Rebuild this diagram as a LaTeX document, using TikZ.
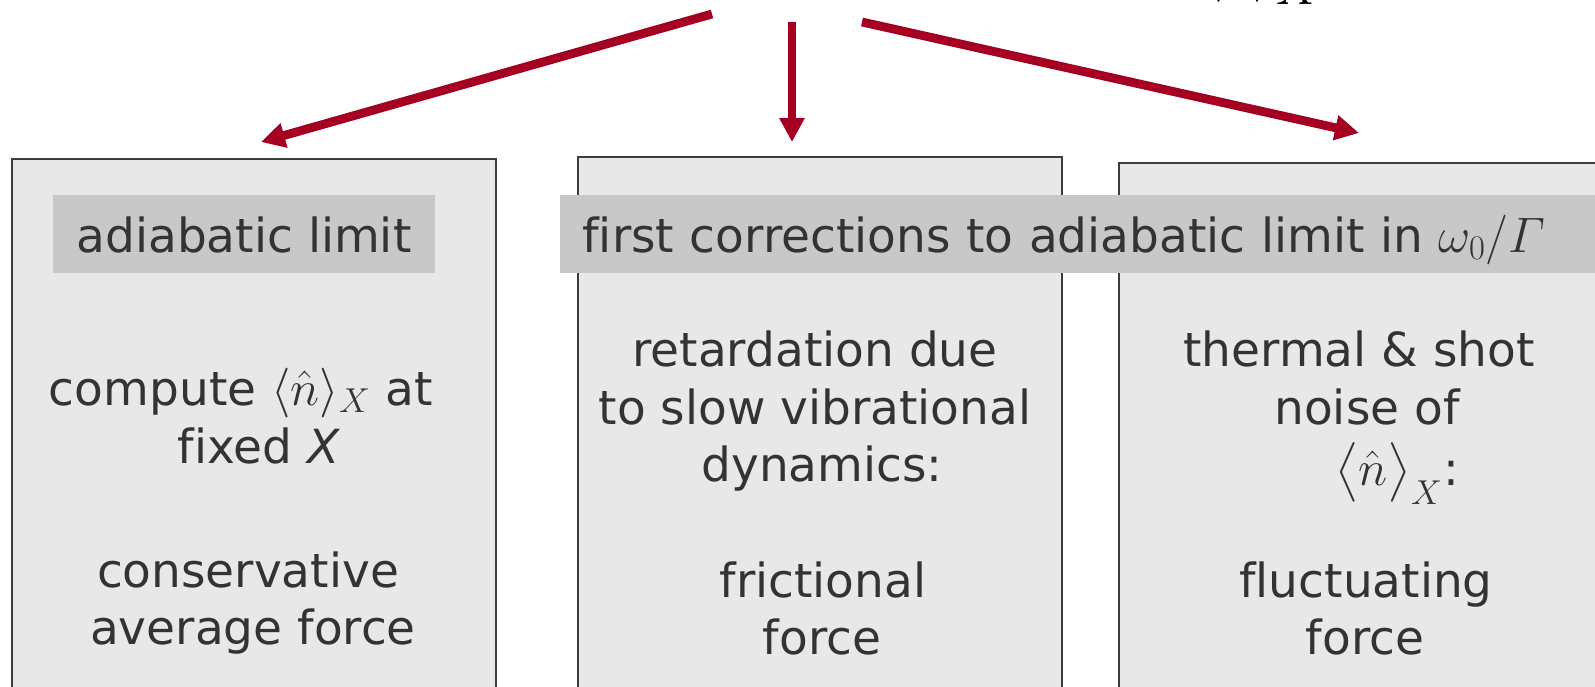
\documentclass[tikz,border=0pt]{standalone}
\usepackage{amsmath}
\usepackage{fontspec}
\setmainfont{DejaVu Sans}[Ligatures=NoCommon]
\usetikzlibrary{arrows.meta}
\definecolor{panelfill}{HTML}{E8E8E8}
\definecolor{tagfill}{HTML}{C8C8C8}
\definecolor{inkgray}{HTML}{333333}
\definecolor{flowred}{HTML}{A50021}
\definecolor{edgegray}{HTML}{3C3C3C}
\newcommand\bodysize{\fontsize{23.5pt}{29pt}\selectfont}
\begin{document}
\begin{tikzpicture}[x=0.5pt,y=-0.5pt,
  panel/.style={draw=edgegray, line width=0.8pt, fill=panelfill,
    anchor=north west, inner sep=0, minimum height=270pt},
  tag/.style={fill=tagfill, text=inkgray, font=\bodysize, inner ysep=0pt,
    minimum height=39pt, text height=20pt, text depth=2pt},
  body/.style={text=inkgray, font=\bodysize, inner sep=0pt, anchor=base},
  flow/.style={draw=flowred, line width=4.4pt,
    -{Triangle[width=12pt, length=12pt]}}]
\useasboundingbox (0,0) rectangle (1595,686);
\clip (0,0) rectangle (1595,686);

% formula above the page edge, only its lower rim shows
\node[anchor=base west, inner sep=0, font=\fontsize{40pt}{42pt}\selectfont]
  (topf) at (1200,-15) {$\bigl\langle\hat{n}\bigr\rangle_X$};

% three panels
\node[panel, minimum width=242pt] (b1) at (11,158) {};
\node[panel, minimum width=242pt] (b2) at (577,156) {};
\node[panel, minimum width=270pt] (b3) at (1118,162) {};

% headings
\node[tag, minimum width=191pt, inner xsep=0pt] (l1) at (244,234) {adiabatic limit};
\node[tag, anchor=west, inner xsep=11pt, text width=520pt, align=left] (l2) at (560,234)
  {first corrections to adiabatic limit in $\omega_0/\varGamma$};

% left panel
\node[body] (c1) at (241,405) {compute $\langle\hat{n}\rangle_X$ at};
\node[body] (c2) at (259,463) {fixed \textit{X}};
\node[body] (c3) at (248,587) {conservative};
\node[body] (c4) at (253,644) {average force};

% middle panel
\node[body] (m1) at (815,366) {retardation due};
\node[body] (m2) at (815,424) {to slow vibrational};
\node[body] (m3) at (822,481) {dynamics:};
\node[body] (m4) at (823,597) {frictional};
\node[body] (m5) at (822,654) {force};

% right panel
\node[body] (r1) at (1359,366) {thermal \& shot};
\node[body] (r2) at (1367,424) {noise of};
\node[body] (r3) at (1397,485) {$\bigl\langle\hat{n}\bigr\rangle_X$:};
\node[body] (r4) at (1366,597) {fluctuating};
\node[body] (r5) at (1365,654) {force};

% arrows fanning out to the panels
\coordinate (s1) at (712,14);  \coordinate (t1) at (261,142);
\coordinate (s2) at (792,22);  \coordinate (t2) at (792,142);
\coordinate (s3) at (862,22);  \coordinate (t3) at (1359,133);
\draw[flow] (s1) -- (t1);
\draw[flow] (s2) -- (t2);
\draw[flow] (s3) -- (t3);
\end{tikzpicture}
\end{document}
